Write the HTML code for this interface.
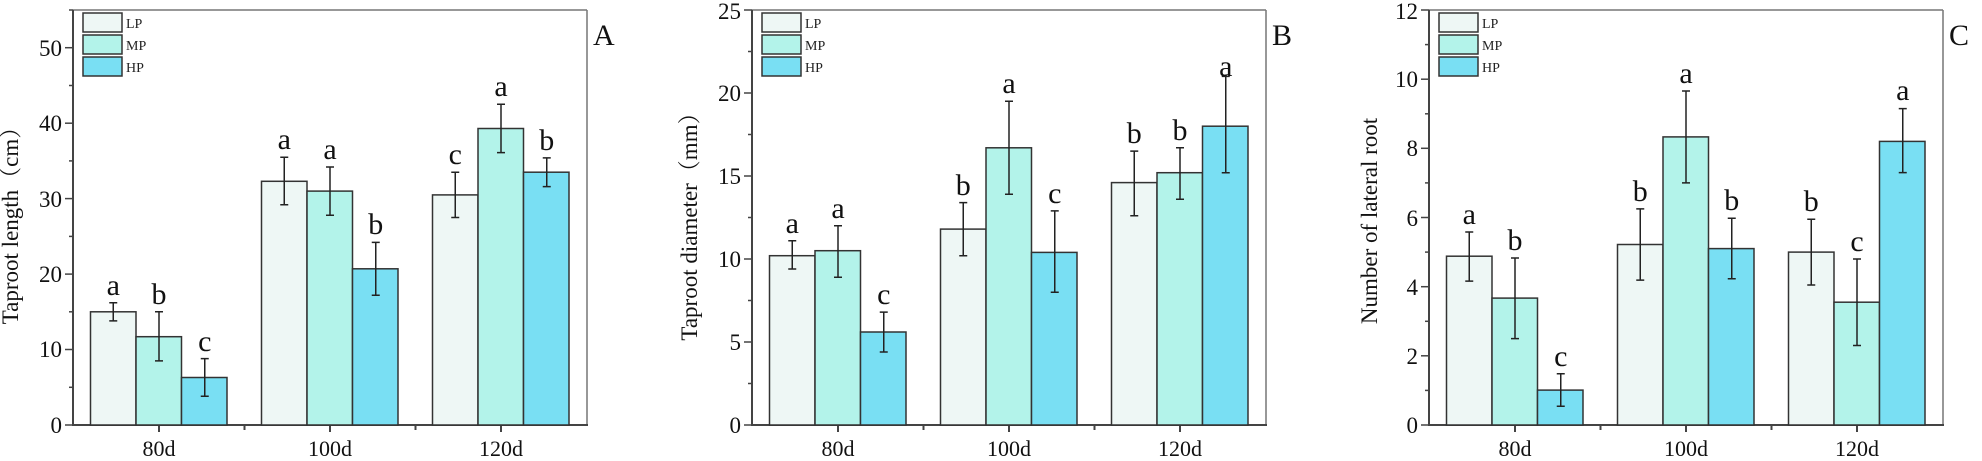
<!DOCTYPE html>
<html><head><meta charset="utf-8"><style>
html,body{margin:0;padding:0;background:#fff;}
svg{display:block;font-family:"Liberation Serif","Noto Serif CJK SC",serif;}
</style></head><body>
<svg width="1982" height="461" viewBox="0 0 1982 461" xmlns="http://www.w3.org/2000/svg">
<defs>
<g id="frame">
<line x1="0" y1="10" x2="514" y2="10" stroke="#777" stroke-width="1.5"/>
<line x1="514" y1="10" x2="514" y2="425" stroke="#777" stroke-width="1.5"/>
<line x1="0" y1="10" x2="0" y2="426" stroke="#444" stroke-width="2"/>
<line x1="-1" y1="425" x2="515" y2="425" stroke="#444" stroke-width="2"/>
<g stroke="#444" stroke-width="2">
<line x1="86" y1="425" x2="86" y2="432"/><line x1="257" y1="425" x2="257" y2="432"/><line x1="428" y1="425" x2="428" y2="432"/>
<line x1="171.5" y1="425" x2="171.5" y2="430"/><line x1="342.5" y1="425" x2="342.5" y2="430"/>
</g>
<g font-size="22" text-anchor="middle" fill="#111">
<text x="86" y="456">80d</text><text x="257" y="456">100d</text><text x="428" y="456">120d</text>
</g>
<rect x="10" y="13" width="39" height="19" fill="#eef7f5" stroke="#333" stroke-width="1.5"/>
<rect x="10" y="35" width="39" height="19" fill="#b3f3ea" stroke="#333" stroke-width="1.5"/>
<rect x="10" y="57" width="39" height="19" fill="#79dff3" stroke="#333" stroke-width="1.5"/>
<g font-size="14" fill="#222"><text x="53" y="28">LP</text><text x="53" y="50">MP</text><text x="53" y="72">HP</text></g>
</g>
</defs>

<!-- Panel A -->
<g transform="translate(73,0)">
<use href="#frame"/>
<g stroke="#444" stroke-width="1.5">
<line x1="-8" y1="425" x2="0" y2="425"/><line x1="-4" y1="387.3" x2="0" y2="387.3"/>
<line x1="-8" y1="349.5" x2="0" y2="349.5"/><line x1="-4" y1="311.8" x2="0" y2="311.8"/>
<line x1="-8" y1="274.1" x2="0" y2="274.1"/><line x1="-4" y1="236.4" x2="0" y2="236.4"/>
<line x1="-8" y1="198.6" x2="0" y2="198.6"/><line x1="-4" y1="160.9" x2="0" y2="160.9"/>
<line x1="-8" y1="123.2" x2="0" y2="123.2"/><line x1="-4" y1="85.5" x2="0" y2="85.5"/>
<line x1="-8" y1="47.7" x2="0" y2="47.7"/><line x1="-4" y1="10" x2="0" y2="10"/>
</g>
<g font-size="23" text-anchor="end" fill="#111">
<text x="-11" y="433">0</text><text x="-11" y="357">10</text><text x="-11" y="282">20</text>
<text x="-11" y="207">30</text><text x="-11" y="131">40</text><text x="-11" y="56">50</text>
</g>
<text transform="translate(-55,220) rotate(-90)" font-size="23" text-anchor="middle" fill="#111">Taproot length（cm）</text>
<text x="520" y="45" font-size="30" fill="#111">A</text>
<g stroke="#333" stroke-width="1.5">
<rect x="17.5" y="311.8" width="45.5" height="113.2" fill="#eef7f5"/>
<rect x="63" y="336.7" width="45.5" height="88.3" fill="#b3f3ea"/>
<rect x="108.5" y="377.5" width="45.5" height="47.5" fill="#79dff3"/>
<rect x="188.5" y="181.3" width="45.5" height="243.7" fill="#eef7f5"/>
<rect x="234" y="191.1" width="45.5" height="233.9" fill="#b3f3ea"/>
<rect x="279.5" y="268.8" width="45.5" height="156.2" fill="#79dff3"/>
<rect x="359.5" y="194.9" width="45.5" height="230.1" fill="#eef7f5"/>
<rect x="405" y="128.5" width="45.5" height="296.5" fill="#b3f3ea"/>
<rect x="450.5" y="172.2" width="45.5" height="252.8" fill="#79dff3"/>
</g>
<g stroke="#222" stroke-width="1.5" fill="none">
<path d="M40.25 302.8V320.9M36.25 302.8h8M36.25 320.9h8"/>
<path d="M86 311.8V360.9M82 311.8h8M82 360.9h8"/>
<path d="M131.75 358.6V396.3M127.75 358.6h8M127.75 396.3h8"/>
<path d="M211.25 157.2V204.7M207.25 157.2h8M207.25 204.7h8"/>
<path d="M257 167V215.2M253 167h8M253 215.2h8"/>
<path d="M302.75 242.4V295.2M298.75 242.4h8M298.75 295.2h8"/>
<path d="M382.25 172.2V217.5M378.25 172.2h8M378.25 217.5h8"/>
<path d="M428 104.3V152.6M424 104.3h8M424 152.6h8"/>
<path d="M473.75 157.9V186.6M469.75 157.9h8M469.75 186.6h8"/>
</g>
<g font-size="30" text-anchor="middle" fill="#111">
<text x="40.25" y="295">a</text><text x="86" y="304">b</text><text x="131.75" y="351">c</text>
<text x="211.25" y="149">a</text><text x="257" y="159">a</text><text x="302.75" y="234">b</text>
<text x="382.25" y="164">c</text><text x="428" y="96">a</text><text x="473.75" y="150">b</text>
</g>
</g>

<!-- Panel B -->
<g transform="translate(752,0)">
<use href="#frame"/>
<g stroke="#444" stroke-width="1.5">
<line x1="-8" y1="425" x2="0" y2="425"/><line x1="-4" y1="383.5" x2="0" y2="383.5"/>
<line x1="-8" y1="342" x2="0" y2="342"/><line x1="-4" y1="300.5" x2="0" y2="300.5"/>
<line x1="-8" y1="259" x2="0" y2="259"/><line x1="-4" y1="217.5" x2="0" y2="217.5"/>
<line x1="-8" y1="176" x2="0" y2="176"/><line x1="-4" y1="134.5" x2="0" y2="134.5"/>
<line x1="-8" y1="93" x2="0" y2="93"/><line x1="-4" y1="51.5" x2="0" y2="51.5"/>
<line x1="-8" y1="10" x2="0" y2="10"/>
</g>
<g font-size="23" text-anchor="end" fill="#111">
<text x="-11" y="433">0</text><text x="-11" y="350">5</text><text x="-11" y="267">10</text>
<text x="-11" y="184">15</text><text x="-11" y="101">20</text><text x="-11" y="19">25</text>
</g>
<text transform="translate(-55,221) rotate(-90)" font-size="23" text-anchor="middle" fill="#111">Taproot diameter（mm）</text>
<text x="520" y="45" font-size="30" fill="#111">B</text>
<g stroke="#333" stroke-width="1.5">
<rect x="17.5" y="255.7" width="45.5" height="169.3" fill="#eef7f5"/>
<rect x="63" y="250.7" width="45.5" height="174.3" fill="#b3f3ea"/>
<rect x="108.5" y="332" width="45.5" height="93" fill="#79dff3"/>
<rect x="188.5" y="229.1" width="45.5" height="195.9" fill="#eef7f5"/>
<rect x="234" y="147.8" width="45.5" height="277.2" fill="#b3f3ea"/>
<rect x="279.5" y="252.4" width="45.5" height="172.6" fill="#79dff3"/>
<rect x="359.5" y="182.6" width="45.5" height="242.4" fill="#eef7f5"/>
<rect x="405" y="172.7" width="45.5" height="252.3" fill="#b3f3ea"/>
<rect x="450.5" y="126.2" width="45.5" height="298.8" fill="#79dff3"/>
</g>
<g stroke="#222" stroke-width="1.5" fill="none">
<path d="M40.25 240.7V269M36.25 240.7h8M36.25 269h8"/>
<path d="M86 225.8V277.3M82 225.8h8M82 277.3h8"/>
<path d="M131.75 312.1V352M127.75 312.1h8M127.75 352h8"/>
<path d="M211.25 202.6V255.7M207.25 202.6h8M207.25 255.7h8"/>
<path d="M257 101.3V194.3M253 101.3h8M253 194.3h8"/>
<path d="M302.75 210.9V292.2M298.75 210.9h8M298.75 292.2h8"/>
<path d="M382.25 151.1V215.8M378.25 151.1h8M378.25 215.8h8"/>
<path d="M428 147.8V199.2M424 147.8h8M424 199.2h8"/>
<path d="M473.75 76.4V172.7M469.75 76.4h8M469.75 172.7h8"/>
</g>
<g font-size="30" text-anchor="middle" fill="#111">
<text x="40.25" y="233">a</text><text x="86" y="218">a</text><text x="131.75" y="304">c</text>
<text x="211.25" y="195">b</text><text x="257" y="93">a</text><text x="302.75" y="203">c</text>
<text x="382.25" y="143">b</text><text x="428" y="140">b</text><text x="473.75" y="76">a</text>
</g>
</g>

<!-- Panel C -->
<g transform="translate(1429,0)">
<use href="#frame"/>
<g stroke="#444" stroke-width="1.5">
<line x1="-8" y1="425" x2="0" y2="425"/><line x1="-4" y1="390.4" x2="0" y2="390.4"/>
<line x1="-8" y1="355.8" x2="0" y2="355.8"/><line x1="-4" y1="321.3" x2="0" y2="321.3"/>
<line x1="-8" y1="286.7" x2="0" y2="286.7"/><line x1="-4" y1="252.1" x2="0" y2="252.1"/>
<line x1="-8" y1="217.5" x2="0" y2="217.5"/><line x1="-4" y1="182.9" x2="0" y2="182.9"/>
<line x1="-8" y1="148.3" x2="0" y2="148.3"/><line x1="-4" y1="113.8" x2="0" y2="113.8"/>
<line x1="-8" y1="79.2" x2="0" y2="79.2"/><line x1="-4" y1="44.6" x2="0" y2="44.6"/>
<line x1="-8" y1="10" x2="0" y2="10"/>
</g>
<g font-size="23" text-anchor="end" fill="#111">
<text x="-11" y="433">0</text><text x="-11" y="364">2</text><text x="-11" y="295">4</text>
<text x="-11" y="226">6</text><text x="-11" y="156">8</text><text x="-11" y="87">10</text><text x="-11" y="19">12</text>
</g>
<text transform="translate(-52,221) rotate(-90)" font-size="23" text-anchor="middle" fill="#111">Number of lateral root</text>
<text x="520" y="45" font-size="30" fill="#111">C</text>
<g stroke="#333" stroke-width="1.5">
<rect x="17.5" y="256.2" width="45.5" height="168.8" fill="#eef7f5"/>
<rect x="63" y="298.1" width="45.5" height="126.9" fill="#b3f3ea"/>
<rect x="108.5" y="390.1" width="45.5" height="34.9" fill="#79dff3"/>
<rect x="188.5" y="244.5" width="45.5" height="180.5" fill="#eef7f5"/>
<rect x="234" y="136.9" width="45.5" height="288.1" fill="#b3f3ea"/>
<rect x="279.5" y="248.6" width="45.5" height="176.4" fill="#79dff3"/>
<rect x="359.5" y="252.1" width="45.5" height="172.9" fill="#eef7f5"/>
<rect x="405" y="302.2" width="45.5" height="122.8" fill="#b3f3ea"/>
<rect x="450.5" y="141.4" width="45.5" height="283.6" fill="#79dff3"/>
</g>
<g stroke="#222" stroke-width="1.5" fill="none">
<path d="M40.25 232V281.1M36.25 232h8M36.25 281.1h8"/>
<path d="M86 258V338.6M82 258h8M82 338.6h8"/>
<path d="M131.75 373.8V406.3M127.75 373.8h8M127.75 406.3h8"/>
<path d="M211.25 208.9V280.1M207.25 208.9h8M207.25 280.1h8"/>
<path d="M257 91V182.9M253 91h8M253 182.9h8"/>
<path d="M302.75 218.2V278.7M298.75 218.2h8M298.75 278.7h8"/>
<path d="M382.25 219.2V285M378.25 219.2h8M378.25 285h8"/>
<path d="M428 259V345.5M424 259h8M424 345.5h8"/>
<path d="M473.75 108.6V172.6M469.75 108.6h8M469.75 172.6h8"/>
</g>
<g font-size="30" text-anchor="middle" fill="#111">
<text x="40.25" y="224">a</text><text x="86" y="250">b</text><text x="131.75" y="366">c</text>
<text x="211.25" y="201">b</text><text x="257" y="83">a</text><text x="302.75" y="210">b</text>
<text x="382.25" y="211">b</text><text x="428" y="251">c</text><text x="473.75" y="100">a</text>
</g>
</g>
</svg>
</body></html>
